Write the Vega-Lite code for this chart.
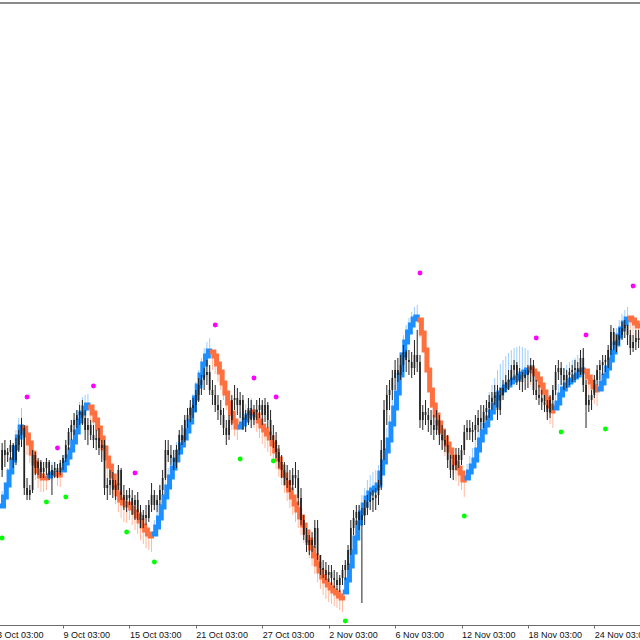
{
"$schema": "https://vega.github.io/schema/vega-lite/v6.json",
"width": 640, "height": 623,
"autosize": {"type": "none"},
"padding": {"top": 2, "left": 0, "right": 0, "bottom": 15},
"background": "white",
"config": {"view": {"stroke": null}},
"data": {"values": [
{"i":2,"o":170,"h":197,"l":163,"c":190,"m":134,"b":149,"t":"u","s":1},
{"i":3,"o":190,"h":200,"l":173,"c":185,"m":143,"b":158,"t":"u","s":1},
{"i":4,"o":185,"h":192,"l":178,"c":188,"m":155,"b":172,"t":"u","s":1},
{"i":5,"o":188,"h":200,"l":180,"c":195,"m":168,"b":185,"t":"u","s":1},
{"i":6,"o":195,"h":197,"l":172,"c":180,"m":180,"b":196,"t":"u","s":1},
{"i":7,"o":180,"h":202,"l":175,"c":195,"m":192,"b":210,"t":"u","s":1},
{"i":8,"o":195,"h":210,"l":188,"c":205,"m":203,"b":222,"t":"u","s":1},
{"i":9,"o":205,"h":222,"l":193,"c":215,"m":213,"b":232,"t":"u","s":1},
{"i":10,"o":212,"h":215,"l":145,"c":152,"m":212,"b":194,"t":"d","s":2},
{"i":11,"o":152,"h":162,"l":140,"c":145,"m":205,"b":185,"t":"d","s":2},
{"i":12,"o":145,"h":155,"l":140,"c":150,"m":197,"b":177,"t":"d","s":2},
{"i":13,"o":150,"h":190,"l":147,"c":185,"m":187,"b":167,"t":"d","s":2},
{"i":14,"o":185,"h":188,"l":165,"c":172,"m":177,"b":160,"t":"d","s":2},
{"i":15,"o":172,"h":182,"l":165,"c":178,"m":169,"b":152,"t":"d","s":2},
{"i":16,"o":178,"h":180,"l":162,"c":168,"m":164,"b":148,"t":"d","s":2},
{"i":17,"o":168,"h":178,"l":162,"c":172,"m":162,"b":148,"t":"d","s":2},
{"i":18,"o":172,"h":182,"l":165,"c":178,"m":162,"b":150,"t":"d","s":2},
{"i":19,"o":178,"h":180,"l":160,"c":165,"m":164,"b":176,"t":"u","s":3},
{"i":20,"o":165,"h":175,"l":145,"c":170,"m":166,"b":178,"t":"u","s":3},
{"i":21,"o":170,"h":178,"l":162,"c":172,"m":167,"b":178,"t":"u","s":3},
{"i":22,"o":172,"h":176,"l":162,"c":168,"m":166,"b":154,"t":"d","s":4},
{"i":23,"o":168,"h":180,"l":165,"c":177,"m":165,"b":153,"t":"d","s":4},
{"i":24,"o":177,"h":185,"l":170,"c":182,"m":170,"b":185,"t":"u","s":5},
{"i":25,"o":182,"h":200,"l":178,"c":195,"m":177,"b":195,"t":"u","s":5},
{"i":26,"o":195,"h":212,"l":190,"c":208,"m":183,"b":203,"t":"u","s":5},
{"i":27,"o":208,"h":220,"l":200,"c":215,"m":190,"b":212,"t":"u","s":5},
{"i":28,"o":215,"h":227,"l":205,"c":220,"m":198,"b":220,"t":"u","s":5},
{"i":29,"o":220,"h":230,"l":212,"c":225,"m":208,"b":230,"t":"u","s":5},
{"i":30,"o":225,"h":235,"l":215,"c":228,"m":219,"b":238,"t":"u","s":5},
{"i":31,"o":228,"h":240,"l":215,"c":222,"m":227,"b":243,"t":"u","s":5},
{"i":32,"o":222,"h":230,"l":200,"c":210,"m":232,"b":245,"t":"u","s":5},
{"i":33,"o":210,"h":222,"l":195,"c":215,"m":235,"b":246,"t":"u","s":5},
{"i":34,"o":215,"h":220,"l":200,"c":205,"m":233,"b":215,"t":"d","s":6},
{"i":35,"o":205,"h":215,"l":192,"c":200,"m":227,"b":210,"t":"d","s":6},
{"i":36,"o":200,"h":210,"l":190,"c":202,"m":220,"b":200,"t":"d","s":6},
{"i":37,"o":202,"h":212,"l":185,"c":192,"m":212,"b":192,"t":"d","s":6},
{"i":38,"o":192,"h":200,"l":178,"c":195,"m":202,"b":182,"t":"d","s":6},
{"i":39,"o":195,"h":200,"l":145,"c":152,"m":192,"b":172,"t":"d","s":6},
{"i":40,"o":152,"h":162,"l":140,"c":155,"m":182,"b":162,"t":"d","s":6},
{"i":41,"o":155,"h":170,"l":145,"c":160,"m":174,"b":155,"t":"d","s":6},
{"i":42,"o":160,"h":168,"l":142,"c":150,"m":164,"b":146,"t":"d","s":6},
{"i":43,"o":150,"h":160,"l":140,"c":155,"m":154,"b":136,"t":"d","s":6},
{"i":44,"o":155,"h":175,"l":150,"c":170,"m":146,"b":128,"t":"d","s":6},
{"i":45,"o":170,"h":172,"l":140,"c":145,"m":140,"b":122,"t":"d","s":6},
{"i":46,"o":145,"h":155,"l":130,"c":140,"m":137,"b":118,"t":"d","s":6},
{"i":47,"o":140,"h":150,"l":128,"c":145,"m":135,"b":117,"t":"d","s":6},
{"i":48,"o":145,"h":152,"l":135,"c":142,"m":136,"b":120,"t":"d","s":6},
{"i":49,"o":142,"h":150,"l":125,"c":135,"m":132,"b":115,"t":"d","s":6},
{"i":50,"o":135,"h":145,"l":120,"c":140,"m":128,"b":110,"t":"d","s":6},
{"i":51,"o":140,"h":148,"l":120,"c":128,"m":124,"b":106,"t":"d","s":6},
{"i":52,"o":128,"h":135,"l":112,"c":120,"m":119,"b":100,"t":"d","s":6},
{"i":53,"o":120,"h":130,"l":112,"c":125,"m":114,"b":96,"t":"d","s":6},
{"i":54,"o":125,"h":135,"l":115,"c":122,"m":110,"b":92,"t":"d","s":6},
{"i":55,"o":122,"h":140,"l":118,"c":135,"m":106,"b":90,"t":"d","s":6},
{"i":56,"o":135,"h":157,"l":128,"c":145,"m":104,"b":88,"t":"d","s":6},
{"i":57,"o":145,"h":150,"l":130,"c":135,"m":106,"b":120,"t":"u","s":7},
{"i":58,"o":135,"h":145,"l":128,"c":140,"m":113,"b":128,"t":"u","s":7},
{"i":59,"o":140,"h":155,"l":135,"c":150,"m":122,"b":138,"t":"u","s":7},
{"i":60,"o":150,"h":170,"l":145,"c":162,"m":133,"b":150,"t":"u","s":7},
{"i":61,"o":162,"h":200,"l":160,"c":190,"m":143,"b":162,"t":"u","s":7},
{"i":62,"o":190,"h":200,"l":178,"c":185,"m":153,"b":172,"t":"u","s":7},
{"i":63,"o":185,"h":195,"l":175,"c":182,"m":163,"b":182,"t":"u","s":7},
{"i":64,"o":182,"h":190,"l":170,"c":178,"m":172,"b":190,"t":"u","s":7},
{"i":65,"o":178,"h":195,"l":172,"c":190,"m":180,"b":198,"t":"u","s":7},
{"i":66,"o":190,"h":210,"l":185,"c":205,"m":188,"b":206,"t":"u","s":7},
{"i":67,"o":205,"h":215,"l":195,"c":200,"m":195,"b":213,"t":"u","s":7},
{"i":68,"o":200,"h":225,"l":198,"c":220,"m":202,"b":220,"t":"u","s":7},
{"i":69,"o":220,"h":232,"l":212,"c":225,"m":209,"b":228,"t":"u","s":7},
{"i":70,"o":225,"h":240,"l":218,"c":232,"m":218,"b":236,"t":"u","s":7},
{"i":71,"o":232,"h":242,"l":222,"c":235,"m":230,"b":246,"t":"u","s":7},
{"i":72,"o":235,"h":250,"l":228,"c":245,"m":242,"b":258,"t":"u","s":7},
{"i":73,"o":245,"h":262,"l":238,"c":255,"m":254,"b":270,"t":"u","s":7},
{"i":74,"o":255,"h":265,"l":245,"c":260,"m":265,"b":282,"t":"u","s":7},
{"i":75,"o":260,"h":272,"l":250,"c":265,"m":276,"b":292,"t":"u","s":7},
{"i":76,"o":265,"h":280,"l":255,"c":268,"m":284,"b":298,"t":"u","s":7},
{"i":77,"o":268,"h":275,"l":245,"c":250,"m":289,"b":302,"t":"u","s":7},
{"i":78,"o":250,"h":260,"l":235,"c":245,"m":288,"b":270,"t":"d","s":8},
{"i":79,"o":245,"h":255,"l":228,"c":235,"m":284,"b":266,"t":"d","s":8},
{"i":80,"o":235,"h":245,"l":220,"c":230,"m":276,"b":258,"t":"d","s":8},
{"i":81,"o":230,"h":240,"l":215,"c":225,"m":268,"b":250,"t":"d","s":8},
{"i":82,"o":225,"h":232,"l":205,"c":212,"m":257,"b":240,"t":"d","s":8},
{"i":83,"o":212,"h":220,"l":195,"c":205,"m":247,"b":230,"t":"d","s":8},
{"i":84,"o":205,"h":225,"l":200,"c":220,"m":237,"b":220,"t":"d","s":8},
{"i":85,"o":220,"h":245,"l":215,"c":240,"m":227,"b":210,"t":"d","s":8},
{"i":86,"o":240,"h":255,"l":230,"c":242,"m":219,"b":204,"t":"d","s":8},
{"i":87,"o":242,"h":252,"l":225,"c":235,"m":213,"b":200,"t":"d","s":8},
{"i":88,"o":235,"h":248,"l":222,"c":240,"m":213,"b":228,"t":"u","s":9},
{"i":89,"o":240,"h":245,"l":210,"c":220,"m":216,"b":232,"t":"u","s":9},
{"i":90,"o":220,"h":230,"l":208,"c":225,"m":220,"b":236,"t":"u","s":9},
{"i":91,"o":225,"h":242,"l":215,"c":232,"m":224,"b":240,"t":"u","s":9},
{"i":92,"o":232,"h":240,"l":212,"c":220,"m":227,"b":242,"t":"u","s":9},
{"i":93,"o":220,"h":235,"l":215,"c":228,"m":228,"b":212,"t":"d","s":10},
{"i":94,"o":228,"h":240,"l":220,"c":230,"m":225,"b":208,"t":"d","s":10},
{"i":95,"o":230,"h":242,"l":222,"c":235,"m":219,"b":202,"t":"d","s":10},
{"i":96,"o":235,"h":240,"l":215,"c":225,"m":214,"b":196,"t":"d","s":10},
{"i":97,"o":225,"h":242,"l":218,"c":235,"m":210,"b":192,"t":"d","s":10},
{"i":98,"o":235,"h":238,"l":212,"c":220,"m":206,"b":188,"t":"d","s":10},
{"i":99,"o":220,"h":230,"l":200,"c":205,"m":202,"b":184,"t":"d","s":10},
{"i":100,"o":205,"h":215,"l":192,"c":200,"m":196,"b":178,"t":"d","s":10},
{"i":101,"o":200,"h":208,"l":182,"c":188,"m":189,"b":171,"t":"d","s":10},
{"i":102,"o":188,"h":195,"l":172,"c":178,"m":181,"b":163,"t":"d","s":10},
{"i":103,"o":178,"h":185,"l":162,"c":170,"m":173,"b":155,"t":"d","s":10},
{"i":104,"o":170,"h":178,"l":155,"c":162,"m":165,"b":147,"t":"d","s":10},
{"i":105,"o":162,"h":175,"l":152,"c":160,"m":157,"b":139,"t":"d","s":10},
{"i":106,"o":160,"h":170,"l":148,"c":155,"m":150,"b":132,"t":"d","s":10},
{"i":107,"o":155,"h":172,"l":150,"c":165,"m":143,"b":125,"t":"d","s":10},
{"i":108,"o":165,"h":178,"l":152,"c":162,"m":136,"b":118,"t":"d","s":10},
{"i":109,"o":162,"h":170,"l":135,"c":142,"m":130,"b":112,"t":"d","s":10},
{"i":110,"o":142,"h":152,"l":115,"c":120,"m":123,"b":105,"t":"d","s":10},
{"i":111,"o":120,"h":125,"l":100,"c":105,"m":115,"b":97,"t":"d","s":10},
{"i":112,"o":105,"h":112,"l":88,"c":95,"m":108,"b":90,"t":"d","s":10},
{"i":113,"o":95,"h":105,"l":85,"c":100,"m":100,"b":82,"t":"d","s":10},
{"i":114,"o":100,"h":108,"l":88,"c":95,"m":92,"b":74,"t":"d","s":10},
{"i":115,"o":95,"h":120,"l":92,"c":112,"m":84,"b":66,"t":"d","s":10},
{"i":116,"o":112,"h":120,"l":80,"c":85,"m":76,"b":58,"t":"d","s":10},
{"i":117,"o":85,"h":85,"l":65,"c":72,"m":69,"b":51,"t":"d","s":10},
{"i":118,"o":72,"h":80,"l":62,"c":70,"m":63,"b":45,"t":"d","s":10},
{"i":119,"o":70,"h":78,"l":60,"c":65,"m":59,"b":41,"t":"d","s":10},
{"i":120,"o":65,"h":75,"l":58,"c":68,"m":55,"b":38,"t":"d","s":10},
{"i":121,"o":68,"h":75,"l":55,"c":62,"m":52,"b":36,"t":"d","s":10},
{"i":122,"o":62,"h":70,"l":52,"c":60,"m":49,"b":34,"t":"d","s":10},
{"i":123,"o":60,"h":68,"l":50,"c":55,"m":47,"b":32,"t":"d","s":10},
{"i":124,"o":55,"h":65,"l":48,"c":62,"m":44,"b":30,"t":"d","s":10},
{"i":125,"o":62,"h":75,"l":55,"c":70,"m":42,"b":28,"t":"d","s":10},
{"i":126,"o":70,"h":80,"l":60,"c":75,"m":48,"b":62,"t":"u","s":11},
{"i":127,"o":75,"h":95,"l":70,"c":90,"m":60,"b":75,"t":"u","s":11},
{"i":128,"o":90,"h":120,"l":85,"c":112,"m":74,"b":90,"t":"u","s":11},
{"i":129,"o":112,"h":130,"l":105,"c":122,"m":88,"b":105,"t":"u","s":11},
{"i":130,"o":122,"h":135,"l":115,"c":128,"m":102,"b":120,"t":"u","s":11},
{"i":131,"o":128,"h":135,"l":110,"c":120,"m":117,"b":135,"t":"u","s":11},
{"i":132,"o":120,"h":132,"l":37,"c":125,"m":127,"b":145,"t":"u","s":11},
{"i":133,"o":125,"h":140,"l":115,"c":132,"m":135,"b":152,"t":"u","s":11},
{"i":134,"o":132,"h":145,"l":125,"c":138,"m":142,"b":160,"t":"u","s":11},
{"i":135,"o":138,"h":148,"l":130,"c":140,"m":147,"b":165,"t":"u","s":11},
{"i":136,"o":140,"h":150,"l":128,"c":142,"m":150,"b":168,"t":"u","s":11},
{"i":137,"o":142,"h":152,"l":130,"c":145,"m":152,"b":170,"t":"u","s":11},
{"i":138,"o":145,"h":160,"l":135,"c":155,"m":155,"b":175,"t":"u","s":11},
{"i":139,"o":155,"h":200,"l":150,"c":190,"m":167,"b":188,"t":"u","s":11},
{"i":140,"o":190,"h":240,"l":180,"c":230,"m":178,"b":200,"t":"u","s":11},
{"i":141,"o":230,"h":255,"l":215,"c":245,"m":189,"b":212,"t":"u","s":11},
{"i":142,"o":245,"h":260,"l":230,"c":250,"m":200,"b":225,"t":"u","s":11},
{"i":143,"o":250,"h":270,"l":240,"c":262,"m":216,"b":240,"t":"u","s":11},
{"i":144,"o":262,"h":280,"l":250,"c":270,"m":232,"b":255,"t":"u","s":11},
{"i":145,"o":270,"h":282,"l":258,"c":265,"m":247,"b":270,"t":"u","s":11},
{"i":146,"o":265,"h":285,"l":260,"c":275,"m":265,"b":288,"t":"u","s":11},
{"i":147,"o":275,"h":295,"l":268,"c":288,"m":285,"b":305,"t":"u","s":11},
{"i":148,"o":288,"h":290,"l":268,"c":280,"m":298,"b":315,"t":"u","s":11},
{"i":149,"o":280,"h":290,"l":265,"c":278,"m":308,"b":322,"t":"u","s":11},
{"i":150,"o":278,"h":288,"l":262,"c":272,"m":315,"b":328,"t":"u","s":11},
{"i":151,"o":272,"h":300,"l":265,"c":285,"m":321,"b":333,"t":"u","s":11},
{"i":152,"o":285,"h":310,"l":268,"c":278,"m":323,"b":335,"t":"u","s":11},
{"i":153,"o":278,"h":285,"l":212,"c":220,"m":320,"b":302,"t":"d","s":12},
{"i":154,"o":220,"h":235,"l":210,"c":228,"m":307,"b":290,"t":"d","s":12},
{"i":155,"o":228,"h":240,"l":215,"c":225,"m":290,"b":272,"t":"d","s":12},
{"i":156,"o":225,"h":232,"l":208,"c":220,"m":270,"b":252,"t":"d","s":12},
{"i":157,"o":220,"h":230,"l":205,"c":215,"m":250,"b":232,"t":"d","s":12},
{"i":158,"o":215,"h":225,"l":200,"c":210,"m":235,"b":217,"t":"d","s":12},
{"i":159,"o":210,"h":230,"l":205,"c":220,"m":225,"b":207,"t":"d","s":12},
{"i":160,"o":220,"h":225,"l":195,"c":205,"m":217,"b":199,"t":"d","s":12},
{"i":161,"o":205,"h":215,"l":190,"c":200,"m":209,"b":191,"t":"d","s":12},
{"i":162,"o":200,"h":210,"l":188,"c":195,"m":202,"b":184,"t":"d","s":12},
{"i":163,"o":195,"h":205,"l":172,"c":180,"m":196,"b":178,"t":"d","s":12},
{"i":164,"o":180,"h":185,"l":162,"c":170,"m":190,"b":172,"t":"d","s":12},
{"i":165,"o":170,"h":185,"l":160,"c":175,"m":183,"b":165,"t":"d","s":12},
{"i":166,"o":175,"h":192,"l":170,"c":185,"m":177,"b":159,"t":"d","s":12},
{"i":167,"o":185,"h":192,"l":172,"c":180,"m":172,"b":154,"t":"d","s":12},
{"i":168,"o":180,"h":195,"l":175,"c":190,"m":167,"b":150,"t":"d","s":12},
{"i":169,"o":190,"h":215,"l":185,"c":208,"m":160,"b":143,"t":"d","s":12},
{"i":170,"o":208,"h":220,"l":200,"c":212,"m":162,"b":176,"t":"u","s":13},
{"i":171,"o":212,"h":220,"l":200,"c":208,"m":168,"b":184,"t":"u","s":13},
{"i":172,"o":208,"h":218,"l":198,"c":210,"m":174,"b":192,"t":"u","s":13},
{"i":173,"o":210,"h":225,"l":200,"c":215,"m":180,"b":200,"t":"u","s":13},
{"i":174,"o":215,"h":230,"l":208,"c":222,"m":190,"b":210,"t":"u","s":13},
{"i":175,"o":222,"h":235,"l":210,"c":218,"m":200,"b":220,"t":"u","s":13},
{"i":176,"o":218,"h":235,"l":212,"c":228,"m":208,"b":230,"t":"u","s":13},
{"i":177,"o":228,"h":240,"l":220,"c":232,"m":215,"b":240,"t":"u","s":13},
{"i":178,"o":232,"h":245,"l":222,"c":238,"m":222,"b":248,"t":"u","s":13},
{"i":179,"o":238,"h":248,"l":230,"c":242,"m":228,"b":255,"t":"u","s":13},
{"i":180,"o":242,"h":255,"l":235,"c":248,"m":235,"b":262,"t":"u","s":13},
{"i":181,"o":248,"h":255,"l":220,"c":230,"m":242,"b":270,"t":"u","s":13},
{"i":182,"o":230,"h":252,"l":225,"c":245,"m":247,"b":276,"t":"u","s":13},
{"i":183,"o":245,"h":260,"l":240,"c":252,"m":250,"b":280,"t":"u","s":13},
{"i":184,"o":252,"h":265,"l":248,"c":258,"m":253,"b":284,"t":"u","s":13},
{"i":185,"o":258,"h":270,"l":250,"c":260,"m":255,"b":287,"t":"u","s":13},
{"i":186,"o":260,"h":275,"l":255,"c":270,"m":258,"b":290,"t":"u","s":13},
{"i":187,"o":270,"h":280,"l":260,"c":275,"m":260,"b":292,"t":"u","s":13},
{"i":188,"o":275,"h":278,"l":255,"c":265,"m":262,"b":293,"t":"u","s":13},
{"i":189,"o":265,"h":272,"l":250,"c":258,"m":264,"b":294,"t":"u","s":13},
{"i":190,"o":258,"h":268,"l":248,"c":262,"m":266,"b":293,"t":"u","s":13},
{"i":191,"o":262,"h":270,"l":250,"c":265,"m":268,"b":292,"t":"u","s":13},
{"i":192,"o":265,"h":275,"l":252,"c":270,"m":270,"b":290,"t":"u","s":13},
{"i":193,"o":270,"h":282,"l":258,"c":275,"m":271,"b":255,"t":"d","s":14},
{"i":194,"o":275,"h":280,"l":245,"c":250,"m":269,"b":252,"t":"d","s":14},
{"i":195,"o":250,"h":260,"l":240,"c":245,"m":266,"b":248,"t":"d","s":14},
{"i":196,"o":245,"h":255,"l":235,"c":242,"m":261,"b":243,"t":"d","s":14},
{"i":197,"o":242,"h":250,"l":230,"c":238,"m":255,"b":237,"t":"d","s":14},
{"i":198,"o":238,"h":245,"l":228,"c":235,"m":248,"b":230,"t":"d","s":14},
{"i":199,"o":235,"h":240,"l":220,"c":228,"m":241,"b":223,"t":"d","s":14},
{"i":200,"o":228,"h":245,"l":222,"c":240,"m":234,"b":216,"t":"d","s":14},
{"i":201,"o":240,"h":255,"l":230,"c":250,"m":229,"b":212,"t":"d","s":14},
{"i":202,"o":250,"h":275,"l":245,"c":268,"m":232,"b":250,"t":"u","s":15},
{"i":203,"o":268,"h":280,"l":260,"c":272,"m":237,"b":256,"t":"u","s":15},
{"i":204,"o":272,"h":278,"l":255,"c":265,"m":245,"b":265,"t":"u","s":15},
{"i":205,"o":265,"h":272,"l":250,"c":260,"m":251,"b":272,"t":"u","s":15},
{"i":206,"o":260,"h":270,"l":252,"c":265,"m":255,"b":275,"t":"u","s":15},
{"i":207,"o":265,"h":272,"l":255,"c":268,"m":258,"b":278,"t":"u","s":15},
{"i":208,"o":268,"h":275,"l":258,"c":270,"m":260,"b":280,"t":"u","s":15},
{"i":209,"o":270,"h":280,"l":260,"c":272,"m":263,"b":282,"t":"u","s":15},
{"i":210,"o":272,"h":278,"l":262,"c":268,"m":265,"b":285,"t":"u","s":15},
{"i":211,"o":268,"h":290,"l":265,"c":282,"m":268,"b":288,"t":"u","s":15},
{"i":212,"o":282,"h":292,"l":248,"c":255,"m":270,"b":290,"t":"u","s":15},
{"i":213,"o":255,"h":260,"l":212,"c":235,"m":269,"b":250,"t":"d","s":16},
{"i":214,"o":235,"h":245,"l":228,"c":240,"m":263,"b":245,"t":"d","s":16},
{"i":215,"o":240,"h":250,"l":230,"c":245,"m":258,"b":240,"t":"d","s":16},
{"i":216,"o":245,"h":265,"l":242,"c":260,"m":253,"b":236,"t":"d","s":16},
{"i":217,"o":260,"h":275,"l":255,"c":270,"m":250,"b":234,"t":"d","s":16},
{"i":218,"o":270,"h":280,"l":260,"c":275,"m":251,"b":268,"t":"u","s":17},
{"i":219,"o":275,"h":285,"l":265,"c":278,"m":257,"b":275,"t":"u","s":17},
{"i":220,"o":278,"h":285,"l":268,"c":280,"m":264,"b":282,"t":"u","s":17},
{"i":221,"o":280,"h":295,"l":272,"c":290,"m":272,"b":290,"t":"u","s":17},
{"i":222,"o":290,"h":315,"l":285,"c":308,"m":280,"b":298,"t":"u","s":17},
{"i":223,"o":308,"h":312,"l":290,"c":295,"m":288,"b":305,"t":"u","s":17},
{"i":224,"o":295,"h":305,"l":288,"c":300,"m":296,"b":312,"t":"u","s":17},
{"i":225,"o":300,"h":312,"l":295,"c":305,"m":304,"b":320,"t":"u","s":17},
{"i":226,"o":305,"h":318,"l":300,"c":312,"m":311,"b":326,"t":"u","s":17},
{"i":227,"o":312,"h":320,"l":302,"c":315,"m":317,"b":330,"t":"u","s":17},
{"i":228,"o":315,"h":315,"l":295,"c":305,"m":321,"b":333,"t":"u","s":17},
{"i":229,"o":305,"h":310,"l":285,"c":292,"m":322,"b":305,"t":"d","s":18},
{"i":230,"o":292,"h":305,"l":288,"c":298,"m":320,"b":302,"t":"d","s":18},
{"i":231,"o":298,"h":310,"l":290,"c":302,"m":317,"b":300,"t":"d","s":18},
{"i":232,"o":302,"h":310,"l":292,"c":300,"m":314,"b":297,"t":"d","s":18}
]},
"layer": [
{"mark": {"type": "rule", "color": "#8a8a8a", "strokeWidth": 2},
 "encoding": {"y": {"datum": 637, "type": "quantitative", "scale": {"domain": [15, 638], "nice": false, "zero": false}, "axis": null}}},
{"mark": {"type": "rule", "strokeWidth": 1},
 "encoding": {
  "x": {"field": "i", "type": "quantitative", "scale": {"domain": [0, 232.5], "range": [-3.4, 640], "nice": false, "zero": false},
   "axis": {"values": [0,24,48,72,96,120,144,168,192,216],
    "labelExpr": "['3 Oct 03:00','9 Oct 03:00','15 Oct 03:00','21 Oct 03:00','27 Oct 03:00','2 Nov 03:00','6 Nov 03:00','12 Nov 03:00','18 Nov 03:00','24 Nov 03:00'][round(datum.value/24)]",
    "labelAlign": "left", "labelBaseline": "top", "labelPadding": 2, "tickSize": 3, "grid": false, "title": null,
    "labelOverlap": false, "labelBound": false, "labelFlush": false,
    "domainColor": "#6b6b6b", "tickColor": "#6b6b6b", "labelColor": "#111", "labelFont": "Liberation Sans", "labelFontSize": 9}},
  "y": {"field": "m", "type": "quantitative", "scale": {"domain": [15, 638], "nice": false, "zero": false}, "axis": null},
  "y2": {"field": "b"},
  "stroke": {"field": "t", "type": "nominal", "scale": {"domain": ["u", "d"], "range": ["#9ccdff", "#ffb89c"]}, "legend": null}}},
{"mark": {"type": "line", "interpolate": "step", "strokeWidth": 5, "strokeCap": "square"},
 "encoding": {
  "x": {"field": "i", "type": "quantitative"},
  "y": {"field": "m", "type": "quantitative"},
  "color": {"field": "t", "type": "nominal", "scale": {"domain": ["u", "d"], "range": ["#1e8fff", "#ff7040"]}, "legend": null},
  "detail": {"field": "s", "type": "nominal"}}},
{"mark": {"type": "rule", "color": "#222222", "strokeWidth": 1},
 "encoding": {
  "x": {"field": "i", "type": "quantitative"},
  "y": {"field": "l", "type": "quantitative"},
  "y2": {"field": "h"}}},
{"mark": {"type": "rule", "color": "#222222", "strokeWidth": 1.7},
 "encoding": {
  "x": {"field": "i", "type": "quantitative"},
  "y": {"field": "o", "type": "quantitative"},
  "y2": {"field": "c"}}},
{"data": {"values": [
  {"i":11,"p":243,"k":"hi"},{"i":22,"p":192,"k":"hi"},{"i":35,"p":254,"k":"hi"},{"i":50,"p":167,"k":"hi"},
  {"i":79,"p":315,"k":"hi"},{"i":93,"p":262,"k":"hi"},{"i":101,"p":243,"k":"hi"},{"i":153,"p":367,"k":"hi"},
  {"i":195,"p":302,"k":"hi"},{"i":213,"p":305,"k":"hi"},{"i":230,"p":354,"k":"hi"},
  {"i":2,"p":102,"k":"lo"},{"i":18,"p":138,"k":"lo"},{"i":25,"p":143,"k":"lo"},{"i":47,"p":108,"k":"lo"},
  {"i":57,"p":78,"k":"lo"},{"i":88,"p":181,"k":"lo"},{"i":100,"p":179,"k":"lo"},{"i":126,"p":19,"k":"lo"},
  {"i":169,"p":124,"k":"lo"},{"i":204,"p":208,"k":"lo"},{"i":220,"p":211,"k":"lo"}]},
 "mark": {"type": "circle", "size": 24, "opacity": 1},
 "encoding": {
  "x": {"field": "i", "type": "quantitative"},
  "y": {"field": "p", "type": "quantitative"},
  "fill": {"field": "k", "type": "nominal", "scale": {"domain": ["hi", "lo"], "range": ["#ff00ff", "#00ff00"]}, "legend": null}}}
]
}
